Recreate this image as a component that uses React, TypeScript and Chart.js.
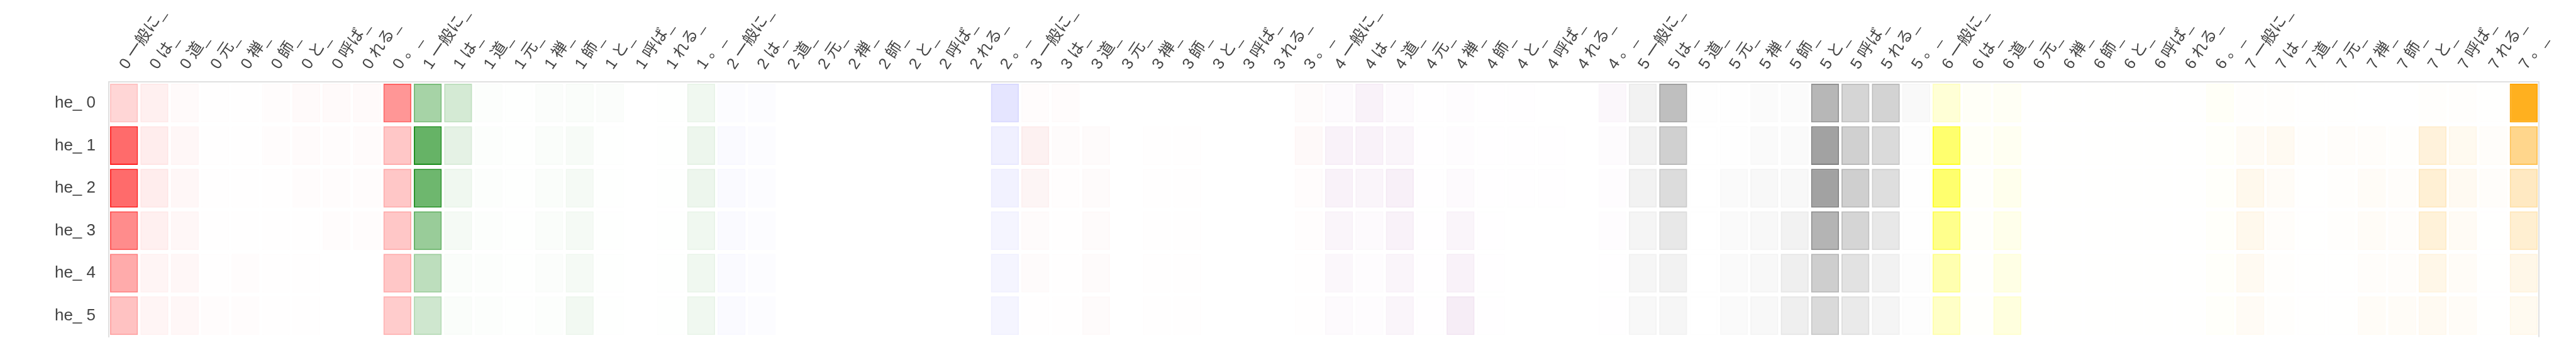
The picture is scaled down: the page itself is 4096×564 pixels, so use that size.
import React, { useEffect, useRef } from "react";
import { Chart, registerables } from "chart.js";

Chart.register(...registerables);

const tokens = ["一般に", "は", "道", "元", "禅", "師", "と", "呼ば", "れる", "。"];
const layers = [0, 1, 2, 3, 4, 5, 6, 7];
const rowLabels = ["he_ 0", "he_ 1", "he_ 2", "he_ 3", "he_ 4", "he_ 5"];
const layerColors = [
  [255, 0, 0],
  [0, 128, 0],
  [0, 0, 255],
  [225, 55, 55],
  [128, 0, 128],
  [128, 128, 128],
  [255, 255, 0],
  [255, 165, 0],
];

const he0 = [
  0.16, 0.06, 0.02, 0.005, 0.005, 0.01, 0.02, 0.02, 0.02, 0.41,
  0.35, 0.17, 0.01, 0.005, 0.015, 0.02, 0.015, 0, 0.005, 0.06,
  0.01, 0.01, 0, 0, 0, 0, 0, 0, 0, 0.1,
  0.015, 0.015, 0, 0, 0, 0, 0, 0, 0, 0.02,
  0.02, 0.05, 0.02, 0.005, 0.01, 0.005, 0.005, 0, 0, 0.03,
  0.1, 0.5, 0.01, 0.01, 0.03, 0.03, 0.57, 0.33, 0.35, 0.05,
  0.16, 0.03, 0.04, 0.005, 0.005, 0.005, 0.005, 0.005, 0.005, 0.03,
  0.01, 0.01, 0.005, 0.005, 0, 0, 0.01, 0.01, 0.005, 0.88,
];
const he1 = [
  0.58, 0.07, 0.03, 0.005, 0.005, 0.01, 0.015, 0.01, 0.015, 0.22,
  0.6, 0.1, 0.01, 0.005, 0.02, 0.03, 0.005, 0, 0.005, 0.07,
  0.02, 0.01, 0, 0, 0, 0, 0, 0, 0, 0.06,
  0.07, 0.02, 0.02, 0, 0.005, 0.005, 0, 0, 0, 0.03,
  0.05, 0.05, 0.04, 0.005, 0.01, 0.005, 0.005, 0.005, 0, 0.015,
  0.1, 0.37, 0.005, 0.01, 0.04, 0.04, 0.73, 0.37, 0.29, 0.02,
  0.57, 0.03, 0.05, 0.005, 0.005, 0.005, 0.005, 0.005, 0.005, 0.02,
  0.04, 0.05, 0.01, 0.02, 0.02, 0.01, 0.14, 0.06, 0.02, 0.45,
];
const he2 = [
  0.58, 0.07, 0.03, 0.005, 0.005, 0.005, 0.01, 0.01, 0.01, 0.22,
  0.57, 0.06, 0.01, 0.005, 0.02, 0.04, 0.005, 0, 0.005, 0.07,
  0.02, 0.01, 0, 0, 0, 0, 0, 0, 0, 0.05,
  0.05, 0.01, 0.02, 0, 0.005, 0.005, 0, 0, 0, 0.015,
  0.05, 0.04, 0.06, 0.005, 0.02, 0.005, 0.005, 0.005, 0, 0.01,
  0.1, 0.28, 0.005, 0.04, 0.06, 0.06, 0.73, 0.38, 0.26, 0.01,
  0.57, 0.02, 0.07, 0.005, 0.005, 0.005, 0.005, 0.005, 0.005, 0.02,
  0.07, 0.03, 0.005, 0.01, 0.03, 0.02, 0.17, 0.05, 0.02, 0.24,
];
const he3 = [
  0.45, 0.06, 0.03, 0.005, 0.005, 0.005, 0.005, 0.01, 0.01, 0.22,
  0.4, 0.04, 0.01, 0.005, 0.02, 0.04, 0.005, 0, 0.005, 0.06,
  0.02, 0.01, 0, 0, 0, 0, 0, 0, 0, 0.04,
  0.02, 0.005, 0.02, 0, 0.005, 0.005, 0, 0, 0, 0.01,
  0.04, 0.02, 0.05, 0.005, 0.04, 0.005, 0, 0, 0, 0.01,
  0.08, 0.18, 0.005, 0.04, 0.06, 0.1, 0.59, 0.33, 0.18, 0.01,
  0.45, 0.02, 0.08, 0.005, 0.005, 0.005, 0.005, 0.005, 0.005, 0.02,
  0.07, 0.02, 0.005, 0.01, 0.03, 0.02, 0.15, 0.04, 0.005, 0.18,
];
const he4 = [
  0.33, 0.04, 0.03, 0.005, 0.01, 0.005, 0.005, 0, 0, 0.22,
  0.26, 0.02, 0.01, 0.005, 0.015, 0.04, 0.005, 0, 0.005, 0.06,
  0.02, 0.01, 0, 0, 0, 0, 0, 0, 0, 0.04,
  0.02, 0.005, 0.02, 0, 0.005, 0.005, 0, 0, 0, 0.005,
  0.03, 0.01, 0.04, 0.005, 0.05, 0.005, 0, 0, 0, 0.005,
  0.07, 0.1, 0.005, 0.04, 0.06, 0.13, 0.39, 0.23, 0.1, 0.02,
  0.31, 0.01, 0.1, 0.005, 0.005, 0.005, 0.005, 0.005, 0.005, 0.02,
  0.05, 0.01, 0.005, 0.005, 0.02, 0.02, 0.09, 0.03, 0.005, 0.09,
];
const he5 = [
  0.24, 0.04, 0.03, 0.01, 0.01, 0.005, 0.005, 0, 0, 0.2,
  0.19, 0.02, 0.01, 0.005, 0.01, 0.05, 0.005, 0, 0.005, 0.06,
  0.02, 0.01, 0, 0, 0, 0, 0, 0, 0, 0.04,
  0.005, 0.005, 0.02, 0, 0.005, 0.005, 0, 0, 0, 0.005,
  0.02, 0.01, 0.04, 0.005, 0.07, 0.005, 0, 0, 0, 0.005,
  0.06, 0.07, 0.005, 0.04, 0.06, 0.13, 0.29, 0.17, 0.08, 0.02,
  0.22, 0.01, 0.13, 0.005, 0.005, 0.005, 0.005, 0.005, 0.005, 0.02,
  0.04, 0.01, 0.005, 0.005, 0.03, 0.03, 0.05, 0.03, 0.005, 0.06,
];
const rows = [he0, he1, he2, he3, he4, he5];

const columnLabels = layers.flatMap((l) => tokens.map((t) => `${l} ${t}_`));

const rgba = (c: number[], a: number) => `rgba(${c[0]},${c[1]},${c[2]},${a})`;

const rightBorder = {
  id: "rightBorder",
  afterDraw(chart: any) {
    const { ctx, chartArea } = chart;
    ctx.save();
    ctx.strokeStyle = "#e0e0e0";
    ctx.lineWidth = 2;
    ctx.beginPath();
    ctx.moveTo(chartArea.right, chartArea.top);
    ctx.lineTo(chartArea.right, chartArea.bottom);
    ctx.stroke();
    ctx.restore();
  },
};

export default function App() {
  const ref = useRef<HTMLCanvasElement>(null);

  useEffect(() => {
    if (!ref.current) return;
    const half = 0.455;
    const datasets = rows.map((vals, r) => ({
      type: "bar" as const,
      label: rowLabels[r],
      data: columnLabels.map(() => [r - half, r + half]),
      backgroundColor: vals.map((v, i) => rgba(layerColors[Math.floor(i / tokens.length)], v)),
      borderColor: vals.map((v, i) =>
        rgba(layerColors[Math.floor(i / tokens.length)], Math.min(1, v * 1.5))
      ),
      borderWidth: 2,
      borderSkipped: false,
      grouped: false,
      barPercentage: 0.92,
      categoryPercentage: 1,
    }));

    const chart = new Chart(ref.current, {
      type: "bar",
      data: { labels: columnLabels, datasets },
      plugins: [rightBorder],
      options: {
        animation: false,
        responsive: false,
        devicePixelRatio: 1,
        layout: { padding: { left: 0, right: 59, top: 0, bottom: 0 } },
        plugins: { legend: { display: false }, tooltip: { enabled: false } },
        scales: {
          x: {
            type: "category",
            position: "top",
            offset: true,
            grid: { display: false },
            border: { display: true, color: "#e0e0e0", width: 2 },
            ticks: {
              autoSkip: false,
              maxRotation: 56,
              minRotation: 56,
              padding: 6,
              labelOffset: 24,
              color: "#444",
              font: { size: 25, family: "'Liberation Sans', Arial, 'Noto Sans CJK JP', sans-serif" },
            },
            afterFit: (s: any) => {
              s.height = 130;
            },
          },
          y: {
            type: "linear",
            min: -0.5,
            max: 5.5,
            reverse: true,
            grid: { display: false },
            border: { display: true, color: "#e0e0e0", width: 2 },
            afterBuildTicks: (s: any) => {
              s.ticks = rowLabels.map((_, i) => ({ value: i }));
            },
            ticks: {
              autoSkip: false,
              padding: 13,
              color: "#444",
              font: { size: 26, family: "'Liberation Sans', Arial, sans-serif" },
              callback: (v: any) => rowLabels[Math.round(Number(v))] ?? "",
            },
            afterFit: (s: any) => {
              s.width = 173;
            },
          },
        },
      },
    });
    return () => chart.destroy();
  }, []);

  return (
    <div style={{ position: "fixed", left: 0, top: 0, width: 4096, height: 564, overflow: "hidden", background: "#fff" }}>
      <canvas ref={ref} width={4096} height={564} style={{ display: "block", width: 4096, height: 564 }} />
    </div>
  );
}
